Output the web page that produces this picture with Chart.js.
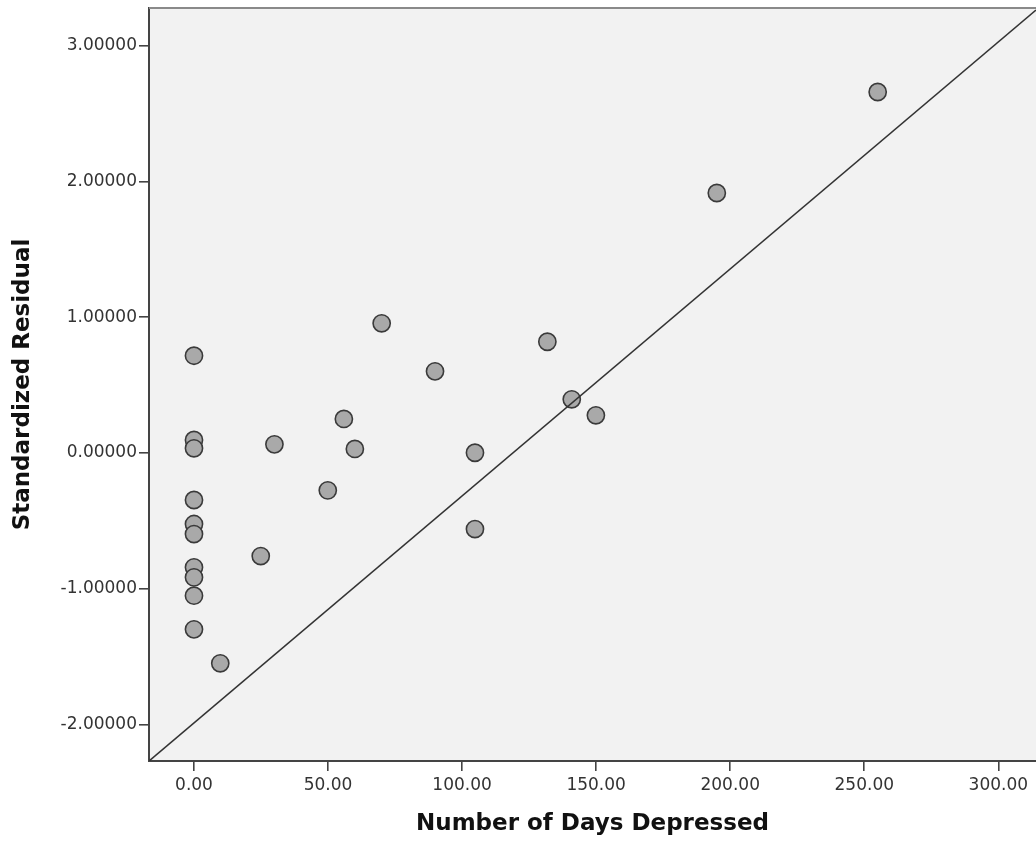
<!DOCTYPE html>
<html lang="en">
<head>
  <meta charset="UTF-8" />
  <title>Standardized Residual vs Number of Days Depressed</title>
  <script src="https://cdn.jsdelivr.net/npm/chart.js"></script>
  <style>
    html, body { margin: 0; padding: 0; background: #fff; }
    #wrap { width: 1036px; height: 843px; }
  </style>
</head>
<body>
  <div id="wrap"><canvas id="chart" width="1036" height="843"></canvas></div>

  <script>
    // scatter data
    const daysDepressed = [0, 0, 0, 0, 0, 0, 0, 0, 0, 0,
                           9.8, 24.9, 30, 49.9, 55.9, 60, 70, 89.9, 104.8, 104.8,
                           131.8, 140.9, 149.9, 195, 255];
    const stdResidual = [0.716, 0.095, 0.034, -0.347, -0.524, -0.598, -0.843, -0.917, -1.052, -1.300,
                         -1.550, -0.760, 0.063, -0.276, 0.250, 0.029, 0.955, 0.601, 0.001, -0.561,
                         0.819, 0.395, 0.277, 1.915, 2.659];

    // reference line, corner to corner of the plot
    const refLineX = [-16.78, 314.05];
    const refLineY = [-2.27, 3.263];

    const xTicks = [0, 50, 100, 150, 200, 250, 300];
    const yTicks = [-2, -1, 0, 1, 2, 3];

    const points = daysDepressed.map((x, i) => ({ x: x, y: stdResidual[i] }));
    const linePts = refLineX.map((x, i) => ({ x: x, y: refLineY[i] }));

    const plotFrame = {
      id: 'plotFrame',
      beforeDraw(chart) {
        const { ctx, chartArea: a } = chart;
        ctx.save();
        ctx.fillStyle = '#f2f2f2';
        ctx.fillRect(a.left, a.top, a.right - a.left, a.bottom - a.top);
        ctx.restore();
      },
      afterDraw(chart) {
        const { ctx, chartArea: a } = chart;
        ctx.save();
        ctx.strokeStyle = '#8a8a8a';
        ctx.lineWidth = 2;
        ctx.beginPath();
        ctx.moveTo(a.left, a.top);
        ctx.lineTo(a.right, a.top);
        ctx.stroke();
        ctx.restore();
      }
    };

    // no extra room for overhanging labels, the plot runs to the right edge
    const noPad = s => { s.paddingLeft = 0; s.paddingRight = 0; s.paddingTop = 0; s.paddingBottom = 0; };

    const tickFont = { family: 'DejaVu Sans', size: 17 };
    const titleFont = { family: 'DejaVu Sans', size: 23, weight: 'bold' };

    new Chart(document.getElementById('chart'), {
      type: 'scatter',
      data: {
        datasets: [
          {
            type: 'line',
            data: linePts,
            borderColor: '#333',
            borderWidth: 1.6,
            pointRadius: 0,
            fill: false
          },
          {
            data: points,
            backgroundColor: '#a9a9a9',
            borderColor: '#3a3a3a',
            borderWidth: 1.6,
            pointRadius: 8.6
          }
        ]
      },
      options: {
        responsive: false,
        animation: false,
        devicePixelRatio: 1,
        layout: { autoPadding: false, padding: { top: 8, right: 0, left: 0, bottom: 0 } },
        plugins: { legend: { display: false }, tooltip: { enabled: false } },
        scales: {
          x: {
            type: 'linear',
            min: -16.78,
            max: 314.05,
            afterBuildTicks: s => { s.ticks = xTicks.map(v => ({ value: v })); },
            afterFit: s => { s.height = 82; noPad(s); },
            grid: { drawOnChartArea: false, drawTicks: true, tickLength: 10, color: '#444', lineWidth: 1.6 },
            border: { display: true, color: '#444', width: 2 },
            ticks: {
              font: tickFont, color: '#333', padding: 4, maxRotation: 0, autoSkip: false,
              callback: v => Number(v).toFixed(2)
            },
            title: {
              display: true, text: 'Number of Days Depressed', font: titleFont, color: '#111',
              padding: { top: 0, bottom: 5 }
            }
          },
          y: {
            type: 'linear',
            min: -2.27,
            max: 3.278,
            afterBuildTicks: s => { s.ticks = yTicks.map(v => ({ value: v })); },
            afterFit: s => { s.width = 149; noPad(s); },
            grid: { drawOnChartArea: false, drawTicks: true, tickLength: 10, color: '#444', lineWidth: 1.6 },
            border: { display: true, color: '#444', width: 2 },
            ticks: {
              font: tickFont, color: '#333', padding: 2, autoSkip: false,
              callback: v => Number(v).toFixed(5)
            },
            title: {
              display: true, text: 'Standardized Residual', font: titleFont, color: '#111',
              padding: { top: 9, bottom: 0 }
            }
          }
        }
      },
      plugins: [plotFrame]
    });
  </script>
</body>
</html>
